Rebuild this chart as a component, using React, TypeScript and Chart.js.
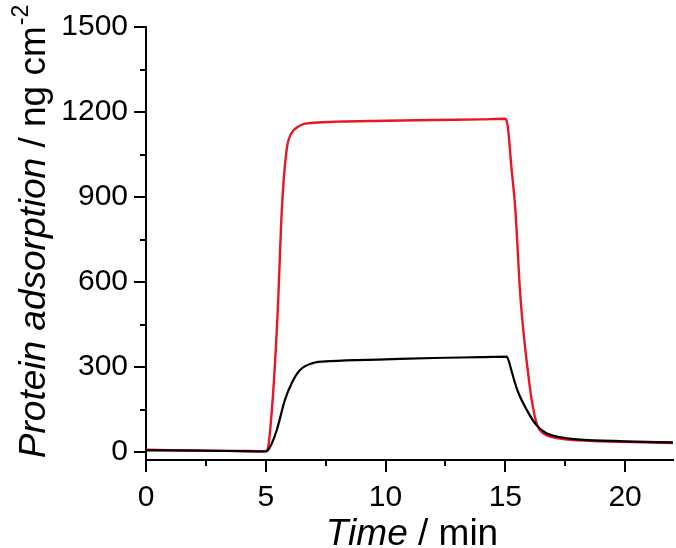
import React, { useEffect, useRef } from "react";
import { Chart, registerables } from "chart.js";

Chart.register(...registerables);

// Time (min) / adsorption (ng cm^-2) readings
const blackTime = [0, 2, 4, 5, 5.05, 5.25, 5.46, 5.8, 6.08, 6.42, 6.96, 7.7, 10, 12, 14, 15.05, 15.15, 15.25, 15.5, 15.9, 16.3, 16.7, 17.25, 18, 20, 22];
const blackValues = [6, 5, 3, 2, 3, 30, 78, 184, 243, 289, 314, 321, 327, 332, 335, 337, 320, 289, 219, 148, 95, 67, 53, 45, 38, 34];

const redTime = [0, 1, 2, 3, 4, 5, 5.08, 5.3, 5.5, 5.67, 5.87, 6.08, 6.33, 6.6, 7, 8, 10, 12, 14, 15.0, 15.1, 15.25, 15.42, 15.62, 15.8, 15.95, 16.1, 16.33, 16.6, 17, 17.5, 19, 21, 22];
const redValues = [8, 7, 6, 5, 4, 3, 10, 200, 500, 854, 1066, 1126, 1147, 1158, 1162, 1166, 1169, 1172, 1174, 1176, 1150, 1010, 854, 560, 390, 280, 184, 95, 65, 52, 45, 38, 34, 32];

const xMajorTicks = [0, 5, 10, 15, 20];
const xMinorTicks = [2.5, 7.5, 12.5, 17.5];
const yMajorTicks = [0, 300, 600, 900, 1200, 1500];
const yMinorTicks = [150, 450, 750, 1050, 1350];

const FONT = "'Liberation Sans', Arial, Helvetica, sans-serif";
const RED = "rgb(232,22,40)";

const pairs = (xs: number[], ys: number[]) => xs.map((x, i) => ({ x, y: ys[i] }));

const decorPlugin = {
  id: "decor",
  afterDraw(chart: any) {
    const ctx = chart.ctx;
    const xs = chart.scales.x;
    const ys = chart.scales.y;
    const area = chart.chartArea;
    ctx.save();
    ctx.strokeStyle = "#000";
    ctx.lineWidth = 2;
    ctx.beginPath();
    for (const v of xMajorTicks) {
      const p = Math.round(xs.getPixelForValue(v));
      ctx.moveTo(p, area.bottom);
      ctx.lineTo(p, area.bottom + 12);
    }
    for (const v of xMinorTicks) {
      const p = Math.round(xs.getPixelForValue(v));
      ctx.moveTo(p, area.bottom);
      ctx.lineTo(p, area.bottom + 6);
    }
    for (const v of yMajorTicks) {
      const p = Math.round(ys.getPixelForValue(v));
      ctx.moveTo(area.left, p);
      ctx.lineTo(area.left - 12, p);
    }
    for (const v of yMinorTicks) {
      const p = Math.round(ys.getPixelForValue(v));
      ctx.moveTo(area.left, p);
      ctx.lineTo(area.left - 6, p);
    }
    ctx.stroke();

    const size = 37;
    ctx.fillStyle = "#000";
    ctx.textBaseline = "alphabetic";
    ctx.textAlign = "left";
    const itF = `italic ${size}px ${FONT}`;
    const nF = `${size}px ${FONT}`;

    // X title
    ctx.font = itF;
    const wT = ctx.measureText("Time").width;
    ctx.font = nF;
    const wM = ctx.measureText(" / min").width;
    const cx = 412;
    const sx = cx - (wT + wM) / 2;
    ctx.font = itF;
    ctx.fillText("Time", sx, 545);
    ctx.font = nF;
    ctx.fillText(" / min", sx + wT, 545);

    // Y title
    ctx.save();
    ctx.translate(45, 232);
    ctx.rotate(-Math.PI / 2);
    ctx.font = itF;
    const w1 = ctx.measureText("Protein adsorption").width;
    ctx.font = nF;
    const w2 = ctx.measureText(" / ng cm").width;
    const supF = `${Math.round(size * 0.62)}px ${FONT}`;
    ctx.font = supF;
    const w3 = ctx.measureText("-2").width;
    let p = -(w1 + w2 + w3) / 2;
    ctx.font = itF;
    ctx.fillText("Protein adsorption", p, 0);
    p += w1;
    ctx.font = nF;
    ctx.fillText(" / ng cm", p, 0);
    p += w2;
    ctx.font = supF;
    ctx.fillText("-2", p + 1, -size * 0.45);
    ctx.restore();

    ctx.restore();
  },
};

export default function App() {
  const ref = useRef<HTMLCanvasElement | null>(null);
  useEffect(() => {
    if (!ref.current) return;
    const chart = new Chart(ref.current, {
      type: "line",
      data: {
        datasets: [
          {
            label: "black",
            data: pairs(blackTime, blackValues),
            borderColor: "#000",
            borderWidth: 2.2,
            pointRadius: 0,
            cubicInterpolationMode: "monotone",
            fill: false,
          },
          {
            label: "red",
            data: pairs(redTime, redValues),
            borderColor: RED,
            borderWidth: 2.4,
            pointRadius: 0,
            cubicInterpolationMode: "monotone",
            fill: false,
          },
        ],
      },
      options: {
        responsive: false,
        animation: false,
        layout: { padding: { top: 27, right: 3, left: 0, bottom: 0 } },
        plugins: { legend: { display: false }, tooltip: { enabled: false } },
        scales: {
          x: {
            type: "linear",
            min: 0,
            max: 22,
            afterBuildTicks: (s: any) => {
              s.ticks = xMajorTicks.map((v) => ({ value: v }));
            },
            afterFit: (s: any) => {
              s.height = 88;
              s.paddingLeft = 0;
              s.paddingRight = 0;
            },
            ticks: {
              color: "#000",
              font: { family: FONT, size: 30 },
              padding: 20,
              maxRotation: 0,
              callback: (v: any) => String(v),
            },
            grid: { display: true, drawOnChartArea: false, drawTicks: false },
            border: { display: true, color: "#000", width: 2 },
          },
          y: {
            type: "linear",
            min: -28,
            max: 1500,
            afterBuildTicks: (s: any) => {
              s.ticks = yMajorTicks.map((v) => ({ value: v }));
            },
            afterFit: (s: any) => {
              s.width = 146;
              s.paddingTop = 0;
              s.paddingBottom = 0;
            },
            ticks: {
              color: "#000",
              font: { family: FONT, size: 30 },
              padding: 18,
              callback: (v: any) => String(v),
            },
            grid: { display: true, drawOnChartArea: false, drawTicks: false },
            border: { display: true, color: "#000", width: 2 },
          },
        },
      },
      plugins: [decorPlugin],
    } as any);
    return () => chart.destroy();
  }, []);
  return (
    <div style={{ position: "absolute", left: 0, top: 0, width: 676, height: 548, background: "#fff" }}>
      <canvas ref={ref} width={676} height={548} style={{ display: "block" }} />
    </div>
  );
}
